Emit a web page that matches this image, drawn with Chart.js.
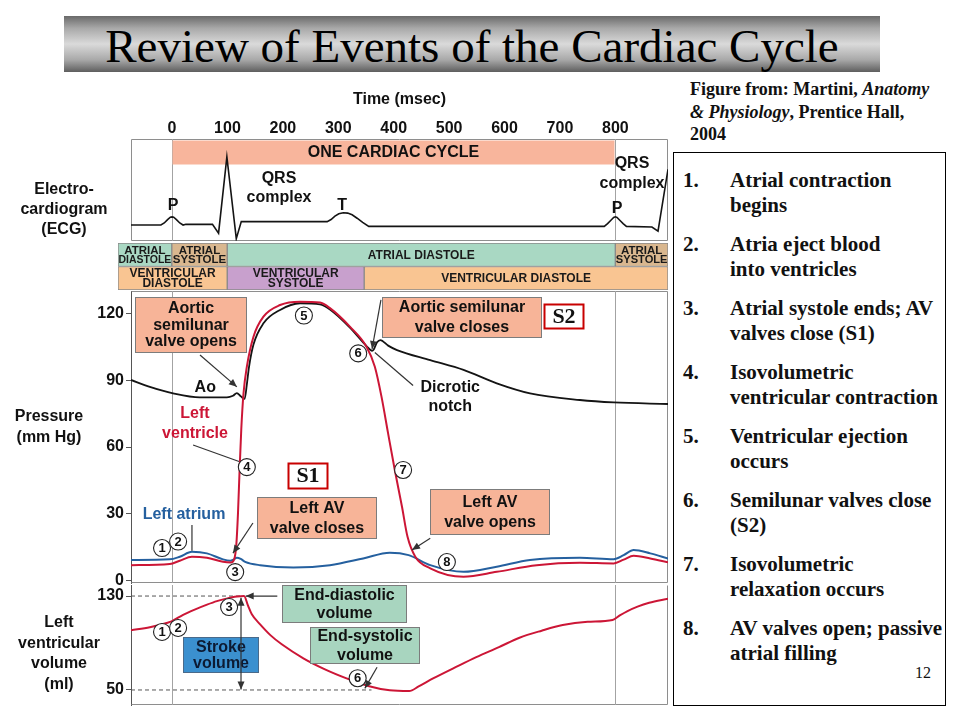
<!DOCTYPE html>
<html>
<head>
<meta charset="utf-8">
<title>Review of Events of the Cardiac Cycle</title>
<script src="https://cdn.jsdelivr.net/npm/chart.js@4/dist/chart.umd.min.js"></script>
<style>
  html,body{margin:0;padding:0;background:#fff;}
  body{width:960px;height:720px;position:relative;overflow:hidden;}
  canvas{position:absolute;}
  .t{position:absolute;white-space:nowrap;color:#111;z-index:2;}
  .side{font:bold 16px 'Liberation Sans',Arial,sans-serif;text-align:center;}
  #titlebar{position:absolute;left:64px;top:16px;width:816px;height:56px;background:linear-gradient(to bottom,#6a6a6a 0%,#a9a9a9 22%,#dadada 50%,#a9a9a9 78%,#5e5e5e 100%);}
  #title{left:64px;top:19px;width:816px;height:56px;line-height:56px;text-align:center;font:47px 'Liberation Serif','Times New Roman',serif;color:#000;}
  #note{left:690px;top:78px;font:bold 18px 'Liberation Serif','Times New Roman',serif;line-height:22.5px;}
  #box{position:absolute;left:673px;top:152px;width:271px;height:552px;border:1px solid #000;}
  .li{position:absolute;font:bold 21px 'Liberation Serif','Times New Roman',serif;line-height:25px;white-space:nowrap;color:#111;}
  #pg{left:915px;top:664px;font:16px 'Liberation Serif','Times New Roman',serif;}
</style>
</head>
<body>
<div id="titlebar"></div>
<div id="title" class="t">Review of Events of the Cardiac Cycle</div>
<div id="note" class="t">Figure from: Martini, <i>Anatomy</i><br><i>&amp; Physiology</i>, Prentice Hall,<br>2004</div>
<div id="box"></div>
<div id="pg" class="t">12</div>

<div class="t side" style="left:14px;top:179px;width:100px;line-height:20px;">Electro-<br>cardiogram<br>(ECG)</div>
<div class="t side" style="left:0px;top:405px;width:98px;line-height:21px;">Pressure<br>(mm Hg)</div>
<div class="t side" style="left:9px;top:612px;width:100px;line-height:20.7px;">Left<br>ventricular<br>volume<br>(ml)</div>

<canvas id="ecg" width="680" height="156" style="left:0;top:86px;"></canvas>
<canvas id="phase" width="680" height="50" style="left:0;top:242px;"></canvas>
<canvas id="pres" width="680" height="296" style="left:0;top:289px;"></canvas>
<canvas id="vol" width="680" height="127" style="left:0;top:583px;"></canvas>

<script>
// ---------------- DATA ----------------
const timeTicks = [0, 100, 200, 300, 400, 500, 600, 700, 800];
const pressureTicks = [0, 30, 60, 90, 120];
const volumeTicks = [50, 130];

// ECG trace (msec, arbitrary mV)
const ecgTime = [-74, -20, -14, -8, -3, 0, 3, 8, 14, 20, 25, 73, 84, 99, 116, 125, 280, 287, 294, 301, 309, 317, 325, 334, 344, 355, 780, 786, 792, 797, 800, 803, 808, 814, 820, 866, 877, 895];
const ecgMv   = [0, 0, 0.03, 0.08, 0.115, 0.12, 0.115, 0.08, 0.03, 0, 0.01, 0.01, -0.12, 1.0, -0.2, 0.05, 0.05, 0.08, 0.13, 0.165, 0.18, 0.175, 0.15, 0.1, 0.04, -0.02, -0.02, 0.02, 0.07, 0.11, 0.12, 0.11, 0.07, 0.02, -0.02, -0.03, -0.09, 0.82];

// Left ventricular pressure (mm Hg)
const lvTime = [-74, -4, 14, 36, 63, 92, 106, 112, 116, 119, 122, 125, 129, 135, 147, 165, 195, 231, 267, 285, 321, 351, 366, 378, 390, 402, 415, 425, 439, 466, 526, 586, 658, 736, 797, 815, 833, 863, 895];
const lvPressure = [7.0, 7.5, 9.0, 10.8, 10.3, 8.5, 8.2, 9.5, 16, 30, 50, 68, 84, 96, 109.5, 118.5, 123.7, 125.2, 124.8, 122.3, 114, 105, 96, 82.6, 66, 49.7, 33.2, 19.7, 10.8, 5.6, 1.8, 4.0, 7.0, 8.1, 7.8, 9.5, 11.2, 10, 8.3];

// Aortic pressure (mm Hg)
const aoTime = [-74, -40, 2, 50, 99, 110, 117, 124, 131, 135, 139, 147, 165, 195, 231, 267, 285, 321, 351, 361, 364, 370, 376, 390, 406, 466, 526, 586, 646, 736, 797, 895];
const aoPressure = [90.1, 87, 84.1, 82.3, 82.3, 83.0, 84.2, 82.8, 81.6, 88, 96, 106, 115.5, 121.5, 124.5, 124.0, 121.7, 113.6, 105.3, 103.2, 103.8, 107, 108, 105.5, 103.5, 99, 94.6, 88.6, 84.1, 81.1, 80, 79.3];

// Left atrial pressure (mm Hg)
const laTime = [-74, -4, 14, 36, 63, 92, 105, 111, 117, 124, 132, 159, 219, 285, 345, 393, 427, 466, 526, 586, 646, 736, 797, 815, 833, 863, 895];
const laPressure = [9.3, 9.6, 10.8, 13, 12.3, 9.6, 9.0, 9.5, 10.3, 9.8, 8.5, 7.0, 6.0, 7.0, 10, 12.6, 11.5, 7, 4, 6.3, 9.3, 10.3, 9.7, 11.5, 13.8, 12.3, 10];

// Left ventricular volume (ml)
const volTime = [-74, -40, -8, 0, 20, 42, 62, 81, 100, 113, 124, 130, 137, 144, 159, 178, 198, 237, 276, 315, 354, 393, 428, 445, 472, 510, 549, 590, 627, 667, 705, 750, 795, 808, 822, 840, 861, 895];
const lvVolume = [100.8, 103.5, 107.3, 108.7, 114, 118.7, 122.5, 125.7, 128, 129.4, 129.9, 130, 122, 114.4, 105.9, 96.5, 88.9, 77, 67.6, 59.9, 53.4, 49.7, 49.1, 53, 60, 69, 78, 86.5, 94.5, 100.5, 105.3, 108, 109.6, 113.5, 117.2, 121, 124.3, 127.7];

// End-diastolic / end-systolic reference volumes and how far their guide lines run (msec)
const refVolumes = [130, 50];
const refUntil = [124, 360];

// Cardiac phases (msec)
const phaseRows = ['Atrial', 'Ventricular'];
const phaseRow   = [0, 0, 0, 0, 1, 1, 1];
const phaseStart = [-97, 0, 100, 800, -97, 100, 347];
const phaseEnd   = [0, 100, 800, 895, 100, 347, 895];
const phaseKind  = ['ad', 'as', 'ad', 'as', 'vd', 'vs', 'vd'];
const phaseText  = [['ATRIAL', 'DIASTOLE'], ['ATRIAL', 'SYSTOLE'], ['ATRIAL DIASTOLE'], ['ATRIAL', 'SYSTOLE'],
                    ['VENTRICULAR', 'DIASTOLE'], ['VENTRICULAR', 'SYSTOLE'], ['VENTRICULAR DIASTOLE']];
const cycleStart = 0, cycleEnd = 800;

const listItems = [
  ['Atrial contraction', 'begins'],
  ['Atria eject blood', 'into ventricles'],
  ['Atrial systole ends; AV', 'valves close (S1)'],
  ['Isovolumetric', 'ventricular contraction'],
  ['Ventricular ejection', 'occurs'],
  ['Semilunar valves close', '(S2)'],
  ['Isovolumetric', 'relaxation occurs'],
  ['AV valves open; passive', 'atrial filling']
];

// ---------------- STYLE ----------------
const T_MIN = -74, T_MAX = 895, PHASE_MIN = -97;
const SANS = "'Liberation Sans', Arial, Helvetica, sans-serif";
const SERIF = "'Liberation Serif', 'Times New Roman', serif";
const B16 = 'bold 16px ' + SANS;
const RED = '#cc1636', BLUE = '#25609f', BLACK = '#141414';
const SALMON = '#f7b498', GREEN = '#a8d5bf', SBLUE = '#3b90cf', CYCLE = '#f8b59c';
const phaseColors = {ad: '#a9d8c3', as: '#d9b78f', vd: '#f9c592', vs: '#c8a0cd'};

Chart.defaults.font.family = SANS;

// list in the text box
listItems.forEach((it, i) => {
  const top = 168 + 64 * i;
  const n = document.createElement('div');
  n.className = 'li'; n.style.left = '683px'; n.style.top = top + 'px'; n.textContent = (i + 1) + '.';
  document.body.appendChild(n);
  const t = document.createElement('div');
  t.className = 'li'; t.style.left = '730px'; t.style.top = top + 'px'; t.innerHTML = it[0] + '<br>' + it[1];
  document.body.appendChild(t);
});

// ---------------- annotation drawing ----------------
function drawLines(ctx, lines, cx, cy, lh, font, color) {
  ctx.font = font; ctx.fillStyle = color; ctx.textAlign = 'center'; ctx.textBaseline = 'middle';
  const n = lines.length;
  lines.forEach((s, i) => ctx.fillText(s, cx, cy + (i - (n - 1) / 2) * lh));
}
function head(ctx, x1, y1, x2, y2) {
  const a = Math.atan2(y2 - y1, x2 - x1), len = 8, w = 3.5;
  ctx.beginPath();
  ctx.moveTo(x2, y2);
  ctx.lineTo(x2 - len * Math.cos(a) + w * Math.sin(a), y2 - len * Math.sin(a) - w * Math.cos(a));
  ctx.lineTo(x2 - len * Math.cos(a) - w * Math.sin(a), y2 - len * Math.sin(a) + w * Math.cos(a));
  ctx.closePath(); ctx.fill();
}
function drawNotes(chart, items) {
  const {ctx, chartArea: a, scales} = chart;
  const X = t => scales.x.getPixelForValue(t);
  const Y = v => scales.y.getPixelForValue(v);
  ctx.save();
  for (const it of items) {
    if (it.type === 'vline') {
      const x = Math.round(X(it.t)) + 0.5;
      ctx.strokeStyle = '#a3a3a3'; ctx.lineWidth = 1;
      ctx.beginPath(); ctx.moveTo(x, a.top); ctx.lineTo(x, a.bottom); ctx.stroke();
    } else if (it.type === 'frame') {
      const l = Math.round(a.left) + 0.5, r = Math.round(a.right) - 0.5, t = Math.round(a.top) + 0.5, b = Math.round(a.bottom) - 0.5;
      ctx.strokeStyle = it.color || '#8e8e8e'; ctx.lineWidth = 1;
      const sides = it.sides || ['left', 'right', 'top', 'bottom'];
      ctx.beginPath();
      if (sides.includes('top')) { ctx.moveTo(l, t); ctx.lineTo(r, t); }
      if (sides.includes('bottom')) { ctx.moveTo(l, b); ctx.lineTo(r, b); }
      if (sides.includes('left')) { ctx.moveTo(l, t); ctx.lineTo(l, b); }
      if (sides.includes('right')) { ctx.moveTo(r, t); ctx.lineTo(r, b); }
      ctx.stroke();
    } else if (it.type === 'box' || it.type === 'tag') {
      const x1 = X(it.t1), x2 = X(it.t2), y1 = Y(it.v1), y2 = Y(it.v2);
      const l = Math.round(Math.min(x1, x2)) + 0.5, r = Math.round(Math.max(x1, x2)) - 0.5;
      const t = Math.round(Math.min(y1, y2)) + 0.5, b = Math.round(Math.max(y1, y2)) - 0.5;
      const tag = it.type === 'tag';
      ctx.fillStyle = tag ? '#fff' : it.fill;
      ctx.fillRect(l, t, r - l, b - t);
      if (it.stroke !== 'none') {
        ctx.strokeStyle = tag ? '#c80000' : (it.stroke || '#7c7c7c');
        ctx.lineWidth = tag ? 2 : 1;
        ctx.strokeRect(l, t, r - l, b - t);
      }
      drawLines(ctx, it.lines, (l + r) / 2, (t + b) / 2 + 0.5, it.lh || 18,
        it.font || (tag ? 'bold 22px ' + SERIF : B16), it.color || '#111');
    } else if (it.type === 'text') {
      drawLines(ctx, it.lines, X(it.t), Y(it.v), it.lh || 19, it.font || B16, it.color || '#111');
    } else if (it.type === 'line' || it.type === 'arrow') {
      const x1 = X(it.from[0]), y1 = Y(it.from[1]), x2 = X(it.to[0]), y2 = Y(it.to[1]);
      ctx.strokeStyle = '#333'; ctx.fillStyle = '#333'; ctx.lineWidth = 1.2;
      ctx.beginPath(); ctx.moveTo(x1, y1); ctx.lineTo(x2, y2); ctx.stroke();
      if (it.type === 'arrow') {
        head(ctx, x1, y1, x2, y2);
        if (it.both) head(ctx, x2, y2, x1, y1);
      }
    } else if (it.type === 'circle') {
      const x = X(it.t), y = Y(it.v);
      ctx.beginPath(); ctx.arc(x, y, 8.5, 0, Math.PI * 2);
      ctx.fillStyle = '#fff'; ctx.fill();
      ctx.strokeStyle = '#222'; ctx.lineWidth = 1.1; ctx.stroke();
      drawLines(ctx, [String(it.n)], x, y + 0.5, 0, 'bold 13px ' + SANS, '#111');
    }
  }
  ctx.restore();
}
function notes(items) {
  return {
    id: 'notes',
    beforeDatasetsDraw(chart) { drawNotes(chart, items.filter(i => i.back)); },
    afterDatasetsDraw(chart) { drawNotes(chart, items.filter(i => !i.back)); }
  };
}
const pts = (xs, ys) => xs.map((x, i) => ({x, y: ys[i]}));
const baseOpts = {responsive: false, animation: false, devicePixelRatio: 1, events: [],
  plugins: {legend: {display: false}, tooltip: {enabled: false}}};

// ---------------- ECG + time axis ----------------
new Chart(document.getElementById('ecg'), {
  type: 'line',
  data: {datasets: [{data: pts(ecgTime, ecgMv), borderColor: BLACK, borderWidth: 1.6, pointRadius: 0, tension: 0}]},
  options: {
    ...baseOpts,
    layout: {padding: {left: 131, right: 12, top: 0, bottom: 1}},
    scales: {
      x: {type: 'linear', position: 'top', min: T_MIN, max: T_MAX,
        afterBuildTicks: s => { s.ticks = timeTicks.map(v => ({value: v})); },
        afterFit: s => { s.height = 53; s.paddingLeft = 0; s.paddingRight = 0; },
        grid: {display: false, drawTicks: false}, border: {display: false},
        ticks: {padding: 1, autoSkip: false, maxRotation: 0, color: '#111', font: {size: 16, weight: 'bold'}},
        title: {display: true, text: 'Time (msec)', color: '#111', font: {size: 16, weight: 'bold'}, padding: {top: 4, bottom: 0}}},
      y: {display: false, min: -0.235, max: 1.265}
    }
  },
  plugins: [notes([
    {type: 'frame', back: true},
    {type: 'vline', t: 0, back: true}, {type: 'vline', t: 800, back: true},
    {type: 'box', back: true, t1: cycleStart, t2: cycleEnd, v1: 1.25, v2: 0.88, fill: CYCLE, stroke: 'none', lines: ['ONE CARDIAC CYCLE']},
    {type: 'text', t: 2, v: 0.29, lines: ['P']},
    {type: 'text', t: 193, v: 0.545, lines: ['QRS', 'complex'], lh: 19.5},
    {type: 'text', t: 307, v: 0.28, lines: ['T']},
    {type: 'text', t: 803, v: 0.235, lines: ['P']},
    {type: 'text', t: 830, v: 0.76, lines: ['QRS', 'complex'], lh: 20}
  ])]
});

// ---------------- phase bars ----------------
const phaseLabels = {
  id: 'phaseLabels',
  afterDatasetsDraw(chart) {
    const ctx = chart.ctx;
    chart.data.datasets.forEach((ds, di) => {
      const row = phaseRow[di];
      const el = chart.getDatasetMeta(di).data[row];
      const p = el.getProps(['x', 'y', 'base'], true);
      const lines = phaseText[di];
      const two = lines.length > 1;
      const size = two ? (row === 0 ? 11.5 : 12) : 12;
      const lh = row === 0 ? 9 : 10;
      ctx.save();
      ctx.font = 'bold ' + size + 'px ' + SANS;
      ctx.fillStyle = '#1a1a1a'; ctx.textAlign = 'center'; ctx.textBaseline = 'middle';
      const cx = (p.x + p.base) / 2, w = Math.abs(p.x - p.base) - 1;
      lines.forEach((s, i) => ctx.fillText(s, cx, p.y + 0.5 + (i - (lines.length - 1) / 2) * lh, w));
      ctx.restore();
    });
  }
};
new Chart(document.getElementById('phase'), {
  type: 'bar',
  data: {
    labels: phaseRows,
    datasets: phaseStart.map((s, i) => ({
      data: phaseRows.map((r, k) => k === phaseRow[i] ? [s, phaseEnd[i]] : null),
      backgroundColor: phaseColors[phaseKind[i]], borderColor: '#8a8a8a', borderWidth: 1, borderSkipped: false,
      grouped: false, barPercentage: 1, categoryPercentage: 1
    }))
  },
  options: {
    ...baseOpts, indexAxis: 'y',
    layout: {padding: {left: 118, right: 12, top: 1, bottom: 2}},
    scales: {x: {type: 'linear', display: false, min: PHASE_MIN, max: T_MAX}, y: {display: false}}
  },
  plugins: [phaseLabels]
});

// ---------------- pressure ----------------
const yAxisStyle = (min, max, ticks) => ({
  min, max, position: 'left',
  afterBuildTicks: s => { s.ticks = ticks.map(v => ({value: v})); },
  afterFit: s => { s.width = 131; s.paddingTop = 0; s.paddingBottom = 0; },
  grid: {drawOnChartArea: false, drawTicks: true, tickLength: 5, color: '#555'},
  border: {display: true, color: '#555'},
  ticks: {padding: 2, color: '#111', font: {size: 16, weight: 'bold'}}
});
new Chart(document.getElementById('pres'), {
  type: 'line',
  data: {datasets: [
    {data: pts(lvTime, lvPressure), borderColor: RED, borderWidth: 2, pointRadius: 0, cubicInterpolationMode: 'monotone'},
    {data: pts(aoTime, aoPressure), borderColor: BLACK, borderWidth: 1.8, pointRadius: 0, cubicInterpolationMode: 'monotone'},
    {data: pts(laTime, laPressure), borderColor: BLUE, borderWidth: 2, pointRadius: 0, cubicInterpolationMode: 'monotone'}
  ]},
  options: {
    ...baseOpts,
    layout: {padding: {left: 0, right: 12, top: 2, bottom: 2}},
    scales: {
      x: {type: 'linear', display: false, min: T_MIN, max: T_MAX},
      y: yAxisStyle(-1, 130, pressureTicks)
    }
  },
  plugins: [notes([
    {type: 'frame', back: true, sides: ['top', 'right', 'bottom']},
    {type: 'vline', t: 0, back: true}, {type: 'vline', t: 800, back: true},
    {type: 'box', t1: -67, t2: 135, v1: 127.3, v2: 102.2, fill: SALMON, lines: ['Aortic', 'semilunar', 'valve opens'], lh: 16.5},
    {type: 'arrow', from: [50.5, 101.3], to: [117, 87]},
    {type: 'text', t: 60, v: 86.7, lines: ['Ao']},
    {type: 'text', t: 41.5, v: 70.3, lines: ['Left', 'ventricle'], color: RED, lh: 20},
    {type: 'line', from: [38, 60.9], to: [121, 53.5]},
    {type: 'circle', t: 135, v: 51, n: 4},
    {type: 'circle', t: 238, v: 119, n: 5},
    {type: 'circle', t: 336, v: 102, n: 6},
    {type: 'circle', t: 417, v: 49.7, n: 7},
    {type: 'circle', t: 496, v: 8.4, n: 8},
    {type: 'text', t: 21.7, v: 29.5, lines: ['Left atrium'], color: BLUE},
    {type: 'line', from: [36, 25], to: [36, 13.5]},
    {type: 'circle', t: -18, v: 14.7, n: 1},
    {type: 'circle', t: 11, v: 17.6, n: 2},
    {type: 'circle', t: 114, v: 3.9, n: 3},
    {type: 'tag', t1: 209, t2: 282, v1: 52.8, v2: 41.2, lines: ['S1']},
    {type: 'box', t1: 153, t2: 370, v1: 37.5, v2: 18.7, fill: SALMON, lines: ['Left AV', 'valve closes'], lh: 20},
    {type: 'arrow', from: [146, 25.9], to: [110, 12.4]},
    {type: 'box', t1: 379, t2: 668, v1: 127.3, v2: 108.9, fill: SALMON, lines: ['Aortic semilunar', 'valve closes'], lh: 20},
    {type: 'arrow', from: [377, 126], to: [361, 104]},
    {type: 'tag', t1: 671, t2: 744, v1: 124, v2: 112.9, lines: ['S2']},
    {type: 'text', t: 502, v: 82.2, lines: ['Dicrotic', 'notch'], lh: 19},
    {type: 'line', from: [435, 87.6], to: [366, 102.4]},
    {type: 'box', t1: 466, t2: 682, v1: 41, v2: 20.5, fill: SALMON, lines: ['Left AV', 'valve opens'], lh: 20},
    {type: 'arrow', from: [466, 19.1], to: [433, 13.8]}
  ])]
});

// ---------------- volume ----------------
new Chart(document.getElementById('vol'), {
  type: 'line',
  data: {datasets: [
    {data: pts(volTime, lvVolume), borderColor: RED, borderWidth: 2, pointRadius: 0, cubicInterpolationMode: 'monotone'},
    ...refVolumes.map((v, i) => ({data: [{x: T_MIN, y: v}, {x: refUntil[i], y: v}], borderColor: '#555', borderWidth: 1,
      borderDash: [4, 3], pointRadius: 0, tension: 0}))
  ]},
  options: {
    ...baseOpts,
    layout: {padding: {left: 0, right: 12, top: 2, bottom: 5}},
    scales: {
      x: {type: 'linear', display: false, min: T_MIN, max: T_MAX},
      y: yAxisStyle(37.2, 139.4, volumeTicks)
    }
  },
  plugins: [notes([
    {type: 'frame', back: true, sides: ['right', 'bottom']},
    {type: 'vline', t: 0, back: true}, {type: 'vline', t: 800, back: true},
    {type: 'box', t1: 199, t2: 424, v1: 139.4, v2: 107, fill: GREEN, lines: ['End-diastolic', 'volume'], lh: 18},
    {type: 'arrow', from: [190, 130], to: [133, 130]},
    {type: 'box', t1: 249, t2: 448, v1: 103.6, v2: 72.1, fill: GREEN, lines: ['End-systolic', 'volume'], lh: 19},
    {type: 'box', t1: 20, t2: 157, v1: 95.1, v2: 64.5, fill: SBLUE, stroke: '#4a6a8a', color: '#0c1a33', lines: ['Stroke', 'volume'], lh: 16},
    {type: 'arrow', from: [124.5, 128.6], to: [124.5, 50.3], both: true},
    {type: 'circle', t: 103, v: 120.6, n: 3},
    {type: 'circle', t: -18, v: 99.4, n: 1},
    {type: 'circle', t: 11, v: 102.8, n: 2},
    {type: 'circle', t: 335, v: 60, n: 6},
    {type: 'arrow', from: [370, 69.3], to: [348, 51.4]}
  ])]
});
</script>
</body>
</html>
